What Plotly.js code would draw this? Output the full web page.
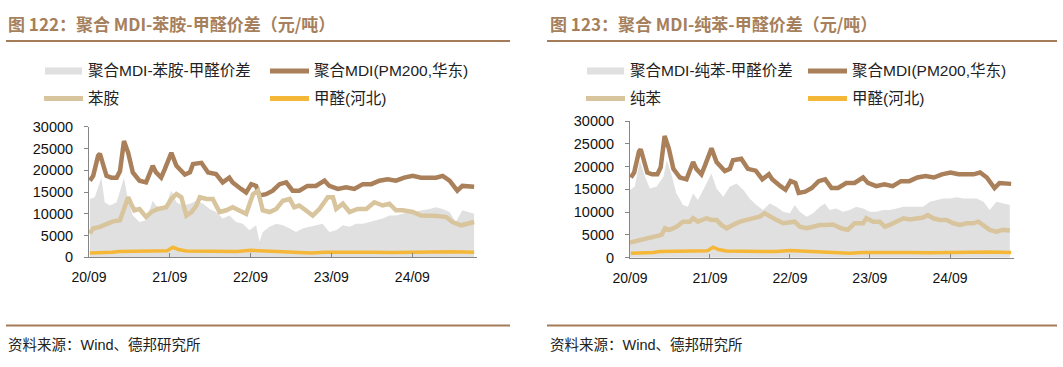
<!DOCTYPE html>
<html><head><meta charset="utf-8">
<script src="https://cdn.plot.ly/plotly-3.0.1.min.js"></script>
<style>html,body{margin:0;padding:0;background:#fff}#chart{width:1063px;height:367px}</style>
</head><body><div id="chart"></div>
<script>
// ---------- DATA ----------
const mdiDates = ['2020-09-05','2020-09-20','2020-10-12','2020-10-20','2020-11-19','2020-12-11','2021-01-04','2021-01-19','2021-02-06','2021-02-25','2021-03-18','2021-04-17','2021-05-17','2021-06-16','2021-07-01','2021-07-24','2021-08-09','2021-09-08','2021-10-01','2021-11-08','2021-12-01','2021-12-15','2022-01-22','2022-02-21','2022-03-29','2022-04-28','2022-05-28','2022-06-12','2022-07-20','2022-08-12','2022-09-04','2022-09-26','2022-10-11','2022-11-10','2022-12-10','2023-01-10','2023-02-09','2023-03-10','2023-04-09','2023-05-16','2023-06-23','2023-08-01','2023-08-23','2023-09-30','2023-11-06','2023-12-14','2024-01-21','2024-02-28','2024-04-05','2024-05-12','2024-06-19','2024-07-26','2024-09-03','2024-10-10','2024-11-17','2024-12-17','2025-01-16','2025-02-16','2025-03-23','2025-04-15','2025-06-07'];
const mdiValues = [17600,18700,23300,23800,18700,18300,18300,19800,26700,24000,19500,17600,17200,21000,19500,18300,20200,24000,21000,19000,19500,21400,21700,19500,19100,17200,18300,17200,15700,14900,16800,16400,14200,14500,15300,16800,17200,15300,15300,16400,16400,17600,16400,15700,16100,15700,16800,16800,17600,17900,17600,18300,18700,18300,18300,18300,18700,17600,15300,16400,16200];

const anilineDates = ['2020-09-05','2020-09-20','2020-10-20','2020-11-19','2020-12-19','2021-01-19','2021-02-03','2021-02-25','2021-03-10','2021-03-25','2021-04-17','2021-05-17','2021-06-09','2021-07-09','2021-08-16','2021-09-08','2021-10-01','2021-10-23','2021-11-15','2021-12-08','2021-12-30','2022-01-15','2022-02-14','2022-03-14','2022-04-14','2022-05-14','2022-06-12','2022-07-12','2022-08-12','2022-09-12','2022-10-04','2022-10-26','2022-11-26','2022-12-26','2023-01-25','2023-02-25','2023-03-17','2023-04-09','2023-05-09','2023-06-09','2023-07-09','2023-08-16','2023-09-08','2023-09-23','2023-10-23','2023-11-22','2023-12-29','2024-02-06','2024-03-13','2024-04-20','2024-05-20','2024-06-19','2024-07-19','2024-09-03','2024-10-10','2024-11-17','2024-12-25','2025-02-01','2025-03-01','2025-04-09','2025-05-01','2025-06-07'];
const anilineValues = [5450,6600,7000,7700,8250,8500,10400,13800,12300,10800,11100,9250,10400,11100,11500,13400,14500,13800,9600,10400,11900,13800,13400,13400,10400,10800,11500,10800,10000,14500,15300,10800,10400,11100,13000,13400,11500,11900,10800,9600,11100,13800,13800,11100,12300,10400,11100,11100,12650,11900,12300,10800,10800,10400,9600,9600,9500,9250,8100,7350,7700,8100];

const spreadAnilineDates = ['2020-09-05','2020-09-27','2020-10-27','2020-11-11','2020-12-04','2021-01-04','2021-02-06','2021-02-25','2021-03-18','2021-04-17','2021-05-17','2021-06-16','2021-07-01','2021-07-24','2021-08-16','2021-09-08','2021-10-01','2021-10-31','2021-12-01','2021-12-30','2022-01-30','2022-02-28','2022-03-29','2022-04-28','2022-05-28','2022-06-28','2022-07-28','2022-08-27','2022-09-26','2022-10-11','2022-10-26','2022-11-26','2022-12-26','2023-01-25','2023-02-25','2023-03-25','2023-04-24','2023-05-24','2023-06-23','2023-07-23','2023-08-23','2023-09-23','2023-10-23','2023-11-22','2023-12-22','2024-01-21','2024-02-20','2024-03-20','2024-04-20','2024-05-20','2024-06-19','2024-07-19','2024-09-03','2024-10-10','2024-11-17','2024-12-17','2025-01-16','2025-02-16','2025-03-16','2025-04-15','2025-05-15','2025-06-07'];
const spreadAnilineValues = [13400,13800,18300,12650,11900,12650,18300,13000,9600,8100,8500,13000,11900,11100,12300,15300,12650,11900,12300,13000,12300,11100,10400,8900,9600,8100,7700,6200,7350,3550,5800,7000,7700,7350,6600,5800,6600,7000,7350,7700,5800,6200,7350,7000,7700,7700,8100,8500,8900,9600,9600,10000,10400,10800,11100,11500,11100,10400,8100,10800,10400,10000];

const formaldehydeDates = ['2020-09-05','2020-11-01','2020-12-15','2021-01-15','2021-03-01','2021-05-01','2021-07-01','2021-08-20','2021-09-15','2021-10-10','2021-11-15','2022-01-01','2022-03-01','2022-05-01','2022-07-01','2022-09-01','2022-10-01','2022-12-01','2023-02-01','2023-04-01','2023-06-01','2023-08-01','2023-10-01','2023-12-01','2024-03-01','2024-06-01','2024-09-01','2024-12-01','2025-03-01','2025-06-07'];
const formaldehydeValues = [1000,1050,1150,1350,1400,1300,1350,1500,2300,1800,1450,1400,1500,1450,1350,1600,1550,1350,1300,1100,1000,1150,1200,1250,1150,1100,1200,1250,1250,1150];

const benzeneDates = ['2020-09-01','2020-10-01','2020-11-01','2020-12-01','2021-01-01','2021-01-23','2021-02-08','2021-03-01','2021-04-01','2021-05-01','2021-06-01','2021-06-16','2021-07-08','2021-08-16','2021-09-08','2021-10-01','2021-10-23','2021-11-16','2021-12-16','2022-01-16','2022-02-15','2022-03-16','2022-04-16','2022-05-08','2022-06-01','2022-07-01','2022-08-01','2022-09-01','2022-09-23','2022-10-16','2022-11-16','2022-12-16','2023-01-16','2023-02-15','2023-03-16','2023-04-23','2023-05-23','2023-06-23','2023-08-01','2023-08-16','2023-09-16','2023-10-16','2023-11-08','2023-12-01','2024-01-01','2024-02-01','2024-03-01','2024-04-01','2024-05-01','2024-05-23','2024-06-16','2024-07-16','2024-08-16','2024-09-16','2024-10-16','2024-11-16','2024-12-16','2025-01-08','2025-02-01','2025-03-01','2025-04-01','2025-05-01','2025-06-01'];
const benzeneValues = [3300,3650,4250,4600,4750,5000,6450,6100,6800,7900,7900,8650,7900,8650,8300,8300,7200,6450,7200,7900,8300,8650,9000,9750,9000,8300,7550,7900,7900,6800,6450,6800,7200,7200,7300,6450,6100,7550,7550,8650,7900,7900,6800,7200,7900,8650,8400,8650,8800,9350,8650,8300,8300,7550,7200,7550,7550,7900,7200,6100,5700,6100,5950];

const spreadBenzeneDates = ['2020-09-01','2020-09-23','2020-10-16','2020-11-08','2020-12-01','2021-01-01','2021-02-01','2021-02-16','2021-03-08','2021-04-01','2021-05-01','2021-05-23','2021-06-16','2021-07-08','2021-08-01','2021-09-08','2021-10-01','2021-11-01','2021-12-01','2022-01-01','2022-02-01','2022-03-01','2022-04-01','2022-05-01','2022-06-01','2022-07-01','2022-08-01','2022-09-01','2022-09-23','2022-10-16','2022-11-16','2022-12-16','2023-01-16','2023-02-08','2023-03-01','2023-04-01','2023-05-01','2023-06-01','2023-07-01','2023-08-01','2023-09-01','2023-10-01','2023-11-01','2023-12-01','2024-01-01','2024-02-01','2024-03-01','2024-04-01','2024-05-01','2024-06-01','2024-07-01','2024-08-01','2024-09-01','2024-10-01','2024-11-01','2024-12-01','2025-01-01','2025-02-01','2025-03-01','2025-04-01','2025-05-01','2025-06-01'];
const spreadBenzeneValues = [14850,15600,21450,17800,15200,15600,17800,21450,18500,14100,11550,11200,14100,12650,14850,18500,15200,13400,15600,16300,14850,13000,11550,10450,11900,11200,10100,9750,11550,10100,9000,9750,11200,11900,10450,10800,10100,10450,11200,10800,10100,10100,10450,10450,10800,11200,11200,11200,11200,12300,12650,13000,13000,13250,13000,13000,13000,12300,10450,12300,11900,11550];

const yTicks = [0,5000,10000,15000,20000,25000,30000];
const titles = ['图 122：聚合 MDI-苯胺-甲醛价差（元/吨）','图 123：聚合 MDI-纯苯-甲醛价差（元/吨）'];
const legendLeft = ['聚合MDI-苯胺-甲醛价差','聚合MDI(PM200,华东)','苯胺','甲醛(河北)'];
const legendRight = ['聚合MDI-纯苯-甲醛价差','聚合MDI(PM200,华东)','纯苯','甲醛(河北)'];
const sourceText = '资料来源：Wind、德邦研究所';

// ---------- STYLE ----------
const W = 1063, H = 367;
const px = x => x / W, py = y => 1 - y / H;
const C = {gray:'#E0E0E0', mdi:'#A9805A', mat:'#D9C59D', hcho:'#F5B738', title:'#A67F5C', rule:'#A47D58'};
const FONT = '"Liberation Sans", Arial, "Noto Sans CJK SC", sans-serif';

function traces(xa, ya, spreadD, spreadV, matD, matV, names){
  return [
    {x:spreadD, y:spreadV, xaxis:xa, yaxis:ya, type:'scatter', mode:'lines', fill:'tozeroy', fillcolor:C.gray, line:{width:0, color:C.gray}, name:names[0]},
    {x:mdiDates, y:mdiValues, xaxis:xa, yaxis:ya, type:'scatter', mode:'lines', line:{width:4.5, color:C.mdi}, name:names[1]},
    {x:matD, y:matV, xaxis:xa, yaxis:ya, type:'scatter', mode:'lines', line:{width:4.5, color:C.mat}, name:names[2]},
    {x:formaldehydeDates, y:formaldehydeValues, xaxis:xa, yaxis:ya, type:'scatter', mode:'lines', line:{width:3.5, color:C.hcho}, name:names[3]}
  ];
}
const data = [
  ...traces('x','y', spreadAnilineDates, spreadAnilineValues, anilineDates, anilineValues, legendLeft),
  ...traces('x2','y2', spreadBenzeneDates, spreadBenzeneValues, benzeneDates, benzeneValues, legendRight)
];

function xax(domain, anchor){
  return {domain, anchor, range:['2020-09-01','2025-06-20'], type:'date', tick0:'2020-09-01', dtick:'M12', tickformat:'%y/%m',
    showgrid:false, zeroline:false, showline:true, linecolor:'#858585', linewidth:1,
    ticks:'inside', ticklen:4, tickcolor:'#858585', ticklabelstandoff:7,
    tickfont:{family:FONT, size:14, color:'#111'}, fixedrange:true};
}
function yax(domain, anchor){
  return {domain, anchor, range:[0,30000], tickvals:yTicks, ticktext:yTicks.map(String),
    showgrid:false, zeroline:false, showline:true, linecolor:'#858585', linewidth:1,
    ticks:'outside', ticklen:4, tickcolor:'#858585', ticklabelstandoff:8,
    tickfont:{family:FONT, size:14.5, color:'#111'}, fixedrange:true};
}

const shapes = [];
const annotations = [];
function rule(x0,x1,y){ shapes.push({type:'line', xref:'paper', yref:'paper', x0:px(x0), x1:px(x1), y0:py(y), y1:py(y), line:{color:C.rule, width:2}}); }
function text(x,y,t,opt){ annotations.push(Object.assign({xref:'paper', yref:'paper', x:px(x), y:py(y), xanchor:'left', yanchor:'middle', showarrow:false, text:t, font:{family:FONT, size:15.5, color:'#222'}}, opt||{})); }
function swLine(x0,x1,y,color){ shapes.push({type:'line', xref:'paper', yref:'paper', x0:px(x0), x1:px(x1), y0:py(y), y1:py(y), line:{color, width:5}}); }
function swRect(x0,x1,y){ shapes.push({type:'rect', xref:'paper', yref:'paper', x0:px(x0), x1:px(x1), y0:py(y+3.5), y1:py(y-3.5), fillcolor:C.gray, line:{width:0}}); }

// panel decorations
[[0,6,510,8,legendLeft,45,270],[1,547,1057,550,legendRight,587,808]].forEach(([i,l,r,tx,leg,c1,c2])=>{
  rule(l,r,41); rule(l,r,325.5);
  text(tx-2,23,'<b>'+titles[i]+'</b>',{font:{family:'"Noto Sans CJK SC", sans-serif', size:17, color:C.title}});
  text(tx-2,345,sourceText,{font:{family:FONT, size:14.5, color:'#222'}});
  swRect(c1,c1+37,71); text(c1+41,71,leg[0]);
  swLine(c2,c2+39,71,C.mdi); text(c2+42,71,leg[1]);
  swLine(c1-1,c1+38,98.5,C.mat); text(c1+41,98.5,leg[2]);
  swLine(c2,c2+39,98.5,C.hcho); text(c2+42,98.5,leg[3]);
});

const layout = {
  width:W, height:H, margin:{l:0,r:0,t:0,b:0}, paper_bgcolor:'#fff', plot_bgcolor:'#fff', showlegend:false,
  xaxis: xax([px(89), px(477)], 'y'), yaxis: yax([py(257.3), py(126.7)], 'x'),
  xaxis2: xax([px(630), px(1014)], 'y2'), yaxis2: yax([py(257.7), py(121)], 'x2'),
  shapes, annotations
};
Plotly.newPlot('chart', data, layout, {staticPlot:true, displayModeBar:false});
</script></body></html>
